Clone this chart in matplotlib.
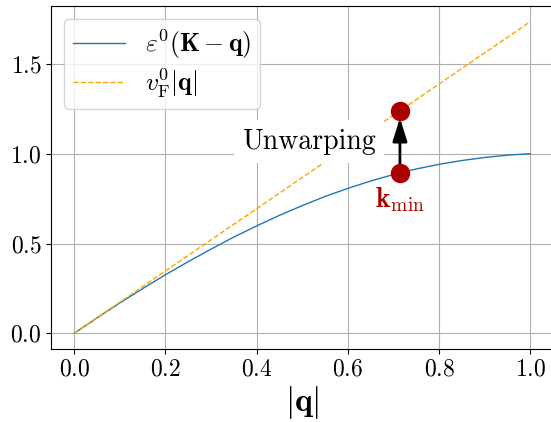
import numpy as np
import matplotlib
matplotlib.use('Agg')
import matplotlib.pyplot as plt

plt.rcParams['font.family'] = 'serif'
plt.rcParams['font.serif'] = ['cmr10']
plt.rcParams['mathtext.fontset'] = 'cm'
plt.rcParams['axes.formatter.use_mathtext'] = True
plt.rcParams['font.size'] = 17

# %%
# values
q = [0.00, 0.05, 0.10, 0.15, 0.20, 0.25, 0.30, 0.35, 0.40, 0.45, 0.50,
     0.55, 0.60, 0.65, 0.70, 0.75, 0.80, 0.85, 0.90, 0.95, 1.00]
eps = [0.000, 0.086, 0.169, 0.249, 0.326, 0.399, 0.469, 0.536, 0.598, 0.657, 0.711,
       0.762, 0.807, 0.848, 0.884, 0.915, 0.941, 0.962, 0.979, 0.992, 1.000]
q_lin = [0.0, 1.0]
vf_lin = [0.0, 1.735]

k_min = 0.714
eps_kmin = 0.89
vf_kmin = 1.237

red = '#aa0000'

# %%
fig = plt.figure(figsize=(5.51, 4.22), dpi=100)
ax = fig.add_axes([0.0931, 0.173, 0.911, 0.8128])

ax.plot(q, eps, color='#1f77b4', lw=1.0, label=r'$\varepsilon^0(\mathbf{K}-\mathbf{q})$')
ax.plot(q_lin, vf_lin, '--', color='orange', lw=1.0, label=r'$v_{\mathrm{F}}^0|\mathbf{q}|$')

ax.annotate('', xy=(k_min, vf_kmin), xytext=(k_min, eps_kmin),
            arrowprops=dict(arrowstyle='-|>,head_length=0.7,head_width=0.22',
                            lw=2, color='black', mutation_scale=20,
                            shrinkA=0, shrinkB=5), zorder=4)
ax.plot([k_min, k_min], [eps_kmin, vf_kmin], 'o', color=red, ms=13, zorder=5)

ax.text(0.515, 1.068, 'Unwarping', fontsize=20, ha='center', va='center',
        bbox=dict(boxstyle='square,pad=0.3', fc='white', ec='none'), zorder=3)
ax.text(k_min, 0.745, r'$\mathbf{k}_{\mathrm{min}}$', color=red, fontsize=20,
        ha='center', va='center', zorder=5)

ax.set_xticks([0.0, 0.2, 0.4, 0.6, 0.8, 1.0])
ax.set_yticks([0.0, 0.5, 1.0, 1.5])
ax.set_xlabel(r'$|\mathbf{q}|$', fontsize=24, labelpad=2)
ax.grid(True)
ax.legend(loc='upper left', fontsize=18.5, labelspacing=0.2, borderpad=0.35)

fig.savefig('out.png', dpi=100)
